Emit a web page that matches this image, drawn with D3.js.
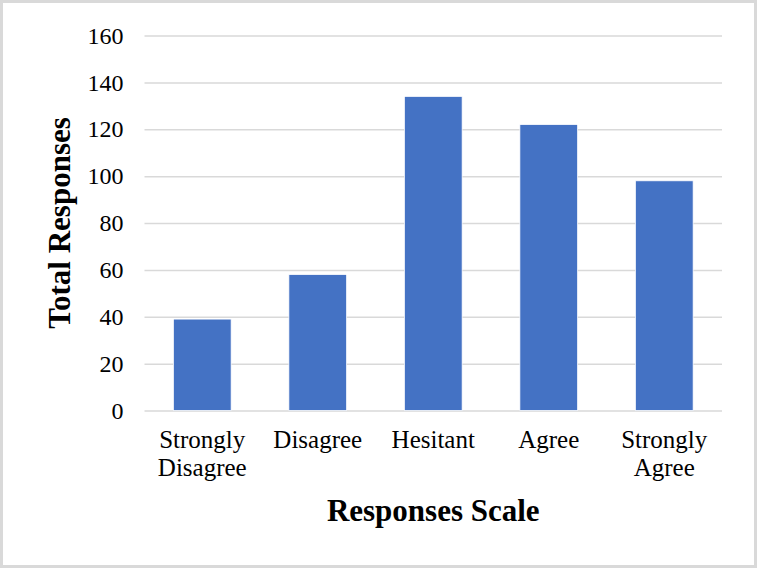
<!DOCTYPE html>
<html>
<head>
<meta charset="utf-8">
<script src="https://cdn.jsdelivr.net/npm/d3@7"></script>
<style>
html,body{margin:0;padding:0;background:#fff;}
svg{display:block;}
</style>
</head>
<body>
<script>
const categories = [["Strongly","Disagree"],["Disagree"],["Hesitant"],["Agree"],["Strongly","Agree"]];
const values = [39, 58, 134, 122, 98];
const yTicks = [0, 20, 40, 60, 80, 100, 120, 140, 160];
const xTitle = "Responses Scale";
const yTitle = "Total Responses";

const W = 757, H = 568;
const m = {left: 144.5, right: 35, top: 35.5, bottom: 157.5};
const svg = d3.select("body").append("svg").attr("width", W).attr("height", H);

svg.append("rect").attr("x",1.5).attr("y",1.5).attr("width",W-3).attr("height",H-3)
  .attr("fill","#fff").attr("stroke","#d9d9d9").attr("stroke-width",3);

const keys = categories.map(c => c.join(" "));
const x = d3.scaleBand().domain(keys).range([m.left, W - m.right]).paddingInner(0.5).paddingOuter(0.25);
const y = d3.scaleLinear().domain([0,160]).range([H - m.bottom, m.top]);

const font = "'Liberation Serif','Times New Roman',serif";

// gridlines
const yAxis = d3.axisLeft(y).tickValues(yTicks).tickSize(-(W - m.right - m.left)).tickPadding(21);
const gy = svg.append("g").attr("transform",`translate(${m.left},0)`).call(yAxis);
gy.select(".domain").remove();
gy.attr("font-family",font);
gy.selectAll(".tick line").attr("stroke","#d9d9d9").attr("stroke-width",1.5);
gy.selectAll(".tick text").attr("font-family",font).attr("font-size",24).attr("fill","#000");

// bars
svg.append("g").selectAll("rect").data(values).join("rect")
  .attr("x",(d,i)=>x(keys[i]))
  .attr("width",x.bandwidth())
  .attr("y",d=>y(d))
  .attr("height",d=>y(0)-y(d))
  .attr("fill","#4472c4")
  .attr("stroke","#ffffff").attr("stroke-width",0.75);

// category labels
const xl = svg.append("g");
categories.forEach((c,i)=>{
  const t = xl.append("text").attr("x",x(keys[i])+x.bandwidth()/2).attr("y",448)
    .attr("text-anchor","middle").attr("font-family",font).attr("font-size",25).attr("fill","#000");
  c.forEach((line,j)=>{
    t.append("tspan").attr("x",x(keys[i])+x.bandwidth()/2).attr("dy", j===0?0:27.5).text(line);
  });
});

// axis titles
svg.append("text").attr("x",(m.left + W - m.right)/2).attr("y",521)
  .attr("text-anchor","middle").attr("font-family",font).attr("font-weight","bold")
  .attr("font-size",31).attr("fill","#000").text(xTitle);

svg.append("text").attr("transform",`translate(70,${(y(0)+y(160))/2}) rotate(-90)`)
  .attr("text-anchor","middle").attr("font-family",font).attr("font-weight","bold")
  .attr("font-size",31).attr("fill","#000").text(yTitle);
</script>
</body>
</html>
